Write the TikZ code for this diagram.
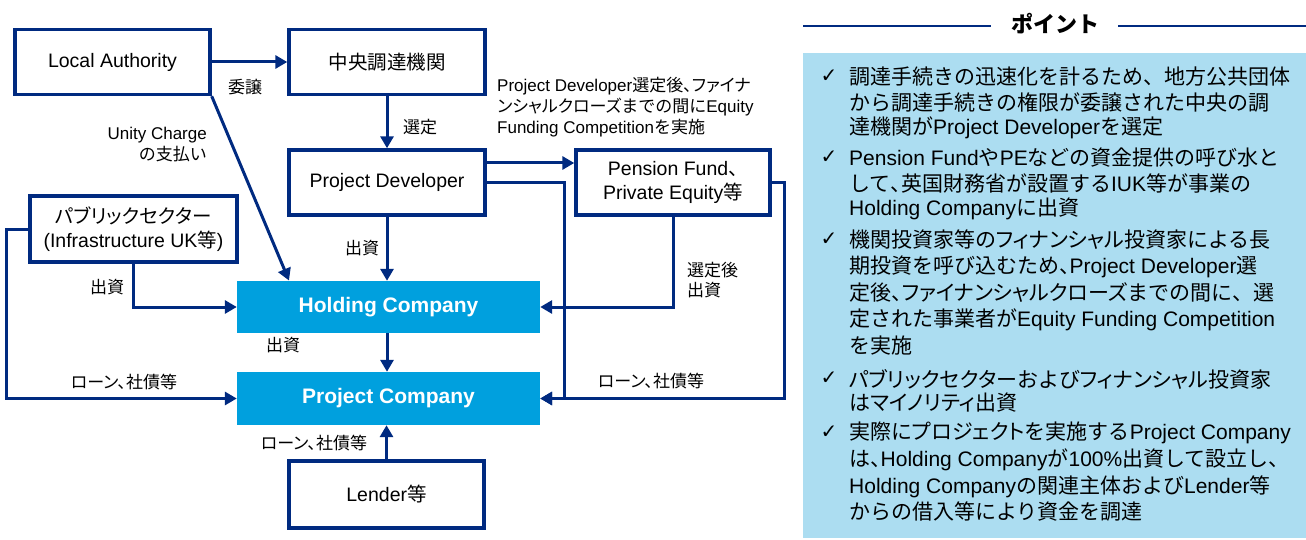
\documentclass[tikz,border=0pt]{standalone}
\usepackage{fontspec}
\setmainfont{Liberation Sans}
\newfontfamily\jp{Noto Sans CJK JP}
\newfontfamily\jpp[RawFeature=+palt]{Noto Sans CJK JP}
\newfontfamily\dv{DejaVu Sans}
\newcommand\J[1]{{\jp #1}}
\newcommand\K[1]{{\jpp #1}}
\usetikzlibrary{arrows.meta}
\definecolor{navy}{RGB}{0,42,128}
\definecolor{cyanbox}{RGB}{0,160,222}
\definecolor{panelblue}{RGB}{172,221,241}
\begin{document}
\begin{tikzpicture}[x=1pt,y=-1pt,
  wbox/.style={draw=navy, line width=3.4pt, fill=white, inner sep=0pt, align=center,
    font=\fontsize{19.5}{24}\selectfont},
  cbox/.style={fill=cyanbox, draw=none, inner sep=0pt, align=center, text=white,
    font=\fontsize{21}{24}\selectfont\bfseries},
  arr/.style={draw=navy, line width=3pt, -{Triangle[length=12pt,width=13pt]}},
  lbl/.style={inner sep=0pt, align=left, font=\fontsize{17}{21}\selectfont},
  ptxt/.style={anchor=west, inner sep=0pt, font=\fontsize{21}{26}\selectfont},
  chk/.style={inner sep=0pt, font=\dv\fontsize{20}{22}\selectfont}]
\useasboundingbox (0,0) rectangle (1306,540);

% ---------- boxes ----------
\node[wbox, minimum width=195pt, minimum height=65pt] (LA) at (112.5,62) {Local Authority};
\node[wbox, minimum width=196pt, minimum height=65pt] (CP) at (387,62) {\J{中央調達機関}};
\node[wbox, minimum width=196pt, minimum height=65pt] (PD) at (387,182.5) {Project Developer};
\node[wbox, minimum width=194pt, minimum height=65pt] (PF) at (673,182.5) {Pension Fund\K{、}\\Private Equity\J{等}};
\node[wbox, minimum width=207pt, minimum height=66pt] (PS) at (133.5,229) {\K{パブリックセクター}\\(Infrastructure UK\J{等})};
\node[cbox, minimum width=303pt, minimum height=52pt] (HC) at (388.5,307) {Holding Company};
\node[cbox, minimum width=303pt, minimum height=53pt] (PC) at (388.5,398.5) {Project Company};
\node[wbox, minimum width=195pt, minimum height=67pt] (LE) at (386.5,494.5) {Lender\J{等}};

% ---------- connectors ----------
\coordinate (dg) at (289,280.5);
\draw[arr] (LA) -- (CP);
\draw[arr] (CP) -- (PD);
\draw[arr] (PD.south) -- (PD.south |- HC.north);
\draw[arr] (LA.south east) -- (dg);
\draw[arr] (PS.south) |- (HC.west);
\draw[arr] (PS.west) -- ++(-22,0) |- (PC.west);
\draw[arr] (HC.south -| PD.south) -- (PC.north -| PD.south);
\draw[arr] (LE.north) -- (LE.north |- PC.south);
\draw[arr] ([yshift=19.5pt]PD.east) -- ([yshift=19.5pt]PD.east -| PF.west);
\draw[arr] (PD.east) -- ++(78,0) |- (PC.east);
\draw[arr] (PF.east) -- ++(13,0) |- (PC.east);
\draw[arr] (PF.south) |- (HC.east);

% ---------- labels ----------
\node[lbl] (l1) at (245,87) {\J{委譲}};
\node[lbl] (l2) at (420,127) {\J{選定}};
\node[lbl, align=right, anchor=east] (l3) at (207,145) {Unity Charge\\\J{の支払い}};
\node[lbl] (l4) at (362,248) {\J{出資}};
\node[lbl, anchor=west] (l5) at (497,107) {Project Developer\J{選定後}\K{、ファイナ}\\\K{ンシャルクローズ}\J{までの間に}Equity\\Funding Competition\J{を実施}};
\node[lbl, anchor=west, font=\fontsize{17}{20}\selectfont] (l6) at (687,280) {\J{選定後}\\\J{出資}};
\node[lbl] (l7) at (107,287) {\J{出資}};
\node[lbl] (l8) at (283,345) {\J{出資}};
\node[lbl] (l9) at (124,382) {\K{ローン、}\J{社債等}};
\node[lbl] (l10) at (651,381) {\K{ローン、}\J{社債等}};
\node[lbl] (l11) at (314,443) {\K{ローン、}\J{社債等}};

% ---------- right panel ----------
\fill[panelblue] (803,53) rectangle (1306,538);
\node[inner sep=0pt, font=\fontsize{22}{24}\selectfont] (ttl) at (1055,24) {\jp\bfseries ポイント};
\draw[navy, line width=2pt] (803,26) -- ([xshift=-20pt]ttl.west |- 0,26);
\draw[navy, line width=2pt] ([xshift=19pt]ttl.east |- 0,26) -- (1306,26);

\node[chk] (c1) at (829,76) {✓};
\node[chk] (c2) at (829,157) {✓};
\node[chk] (c3) at (829,239) {✓};
\node[chk] (c4) at (829,378) {✓};
\node[chk] (c5) at (829,432) {✓};

\node[ptxt] (a1) at (849,77) {\J{調達手続きの迅速化を計るため、地方公共団体}};
\node[ptxt] (a2) at (849,103) {\J{から調達手続きの権限が委譲された中央の調}};
\node[ptxt] (a3) at (849,128) {\J{達機関が}Project Developer\J{を選定}};

\node[ptxt] (b1) at (849,158) {Pension Fund\J{や}PE\J{などの資金提供の呼び水と}};
\node[ptxt] (b2) at (849,183) {\J{して}\K{、}\J{英国財務省が設置する}IUK\J{等が事業の}};
\node[ptxt] (b3) at (849,209) {Holding Company\J{に出資}};

\node[ptxt] (d1) at (849,240) {\J{機関投資家等の}\K{フィナンシャル}\J{投資家による長}};
\node[ptxt] (d2) at (849,267) {\J{期投資を呼び込むため}\K{、}Project Developer\J{選}};
\node[ptxt] (d3) at (849,293) {\J{定後}\K{、ファイナンシャルクローズ}\J{までの間に、選}};
\node[ptxt] (d4) at (849,320) {\J{定された事業者が}Equity Funding Competition};
\node[ptxt] (d5) at (849,346) {\J{を実施}};

\node[ptxt] (e1) at (849,379) {\K{パブリックセクター}\J{および}\K{フィナンシャル}\J{投資家}};
\node[ptxt] (e2) at (849,403) {\J{は}\K{マイノリティ}\J{出資}};

\node[ptxt] (f1) at (849,433) {\J{実際に}\K{プロジェクト}\J{を実施する}Project Company};
\node[ptxt] (f2) at (849,460) {\J{は}\K{、}Holding Company\J{が}100\%\J{出資して設立し}\K{、}};
\node[ptxt] (f3) at (849,487) {Holding Company\J{の関連主体および}Lender\J{等}};
\node[ptxt] (f4) at (849,512) {\J{からの借入等により資金を調達}};
\end{tikzpicture}
\end{document}
